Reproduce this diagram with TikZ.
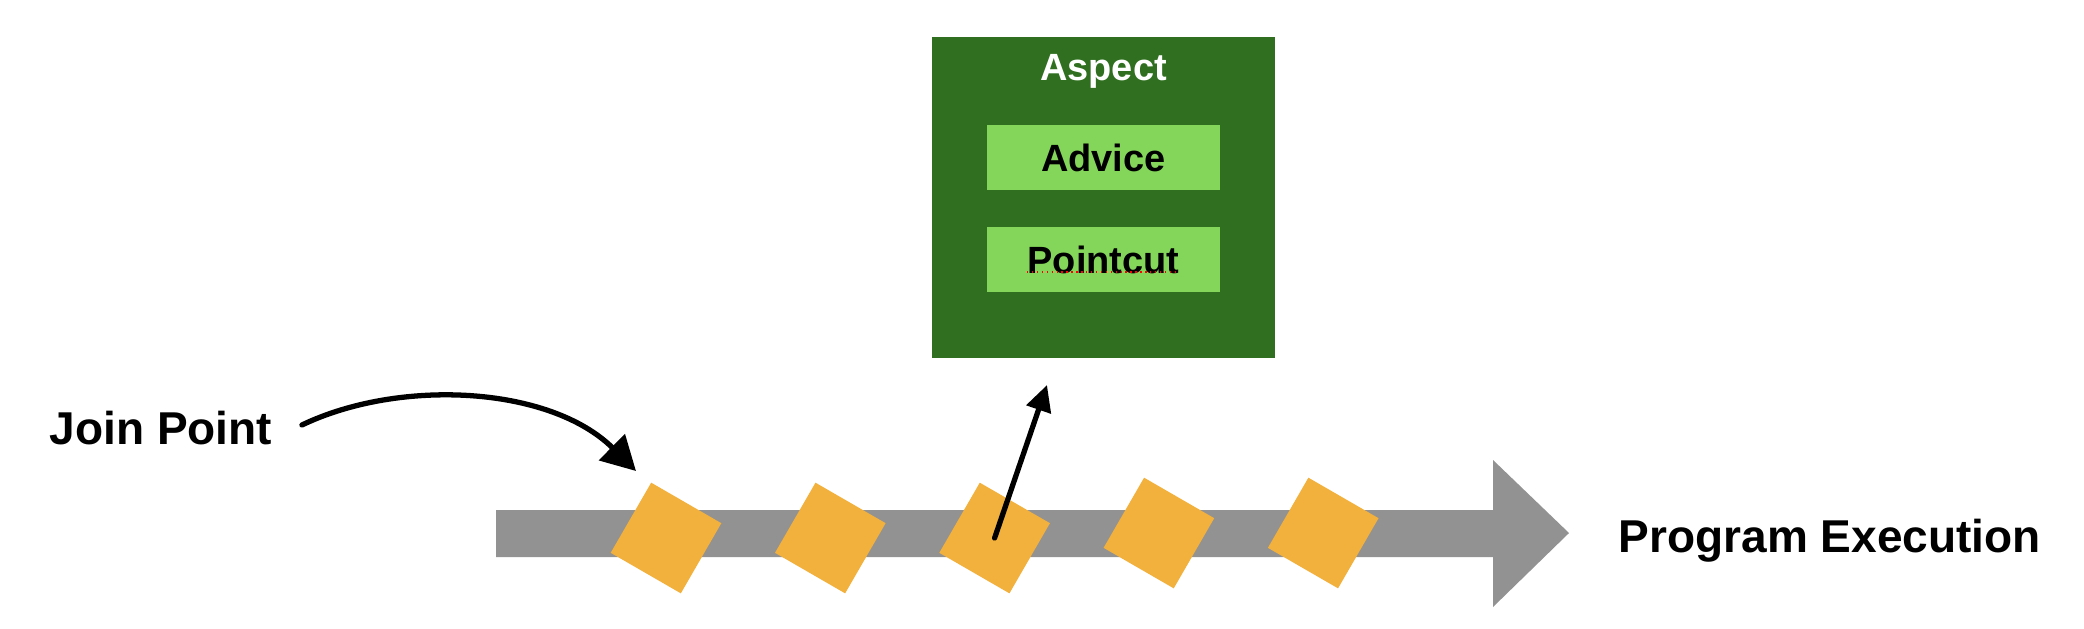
\documentclass[tikz,border=0pt]{standalone}
\usepackage{fontspec}
\setmainfont{Liberation Sans}
\usepackage{tikz}
\usetikzlibrary{positioning,calc,arrows.meta}
\definecolor{aspectbg}{HTML}{2F6F1F}
\definecolor{innerbg}{HTML}{84D65A}
\definecolor{jpfill}{HTML}{F2B03C}
\definecolor{execgray}{HTML}{929292}

\begin{document}
\begin{tikzpicture}[
  jp/.style={fill=jpfill, minimum size=0.81cm, inner sep=0pt, rotate=-30},
  innerbox/.style={fill=innerbg, minimum width=2.33cm, minimum height=0.65cm, inner sep=0pt, font=\fontsize{10.8}{13}\selectfont\bfseries},
  bigtext/.style={font=\fontsize{13.1}{16}\selectfont\bfseries, inner sep=0pt},
  sketch/.style={line width=1.5pt, line cap=round}
]
  \useasboundingbox (0,0) rectangle (20.84,6.28);

  % Program execution timeline
  \fill[execgray] (4.96,0.71) -- (14.93,0.71) -- (14.93,0.21) -- (15.69,0.95)
    -- (14.93,1.68) -- (14.93,1.18) -- (4.96,1.18) -- cycle;
  \node[bigtext, anchor=base west] (exec) at (16.18,0.76) {Program Execution};

  % Join points on the timeline
  \foreach \i/\y in {1/0.90, 2/0.90, 3/0.90, 4/0.95, 5/0.95} {
    \node[jp] (jp\i) at ({6.66 + 1.643*(\i-1)}, \y) {};
  }

  % Aspect with advice and pointcut
  \node[fill=aspectbg, minimum width=3.43cm, minimum height=3.21cm, inner sep=0pt] (aspect) at (11.035,4.305) {};
  \node[font=\fontsize{10.8}{13}\selectfont\bfseries, text=white, anchor=base, inner sep=0pt] (aspecttitle) at (11.035,5.48) {Aspect};
  \node[innerbox] (advice) at (11.035,4.705) {Advice};
  \node[innerbox] (pointcut) at (11.035,3.685) {Pointcut};
  \draw[red, densely dotted, line width=0.4pt] (10.27,3.56) -- (11.77,3.56);

  % Join point label and arrow
  \node[bigtext, anchor=west] (jplabel) at (0.49,2.00) {Join Point};
  \coordinate (jpfrom) at ([xshift=0.29cm, yshift=0.03cm]jplabel.east);
  \coordinate (jpto) at (6.36,1.57);
  \draw[sketch, -{Triangle[length=0.34cm, width=0.36cm]}] (jpfrom) .. controls (4.0,2.5) and (5.5,2.42) .. (jpto);

  % Pointcut picks a join point
  \coordinate (pctip) at (10.47,2.43);
  \draw[sketch, -{Triangle[length=0.26cm, width=0.25cm]}] (jp3.center) -- (pctip);
\end{tikzpicture}
\end{document}
